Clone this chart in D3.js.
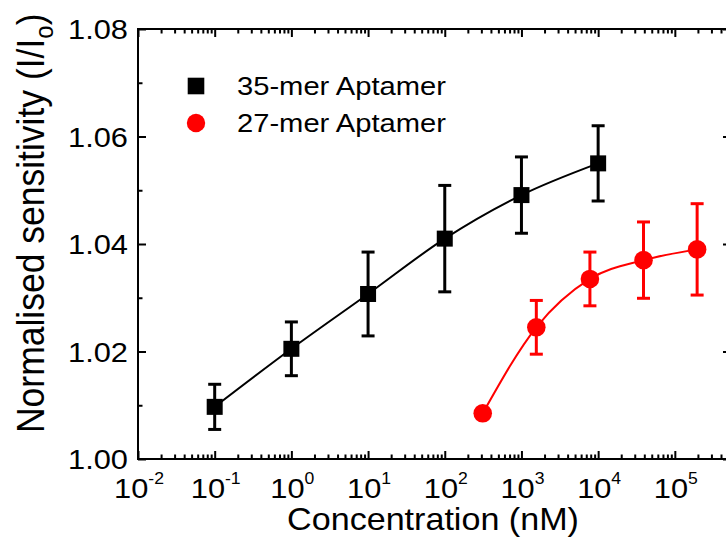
<!DOCTYPE html>
<html>
<head>
<meta charset="utf-8">
<script src="https://cdn.jsdelivr.net/npm/d3@7"></script>
<style>
  body { margin: 0; background: #fff; }
  text { font-family: "Liberation Sans", Arial, sans-serif; fill: #000; }
</style>
</head>
<body>
<div id="chartDiv"></div>
<script>
// data
var conc35 = [0.1, 1, 10, 100, 1000, 10000];
var sens35 = [1.0097, 1.0205, 1.0307, 1.0410, 1.0491, 1.0550];
var err35  = [0.0042, 0.0050, 0.0078, 0.0099, 0.0071, 0.0070];

var conc27 = [312.5, 1562.5, 7812.5, 39062.5, 195312.5];
var sens27 = [1.0085, 1.0245, 1.0335, 1.0370, 1.0390];
var err27  = [0, 0.0050, 0.0050, 0.0071, 0.0085];

var yMajor = [1.00, 1.02, 1.04, 1.06, 1.08];
var yMinor = [1.01, 1.03, 1.05, 1.07];
var xExponents = [-2, -1, 0, 1, 2, 3, 4, 5];

var seriesNames = ["35-mer Aptamer", "27-mer Aptamer"];
var seriesColors = ["#000000", "#ff0000"];

// set the dimensions and margins of the graph
var margin = {top: 29, left: 138},
    width = 593,
    height = 430;
var stretch = "scale(1.1,1)"; // the reference text is a bit wide

var svg = d3.select("#chartDiv")
    .append("svg")
        .attr("width", 726)
        .attr("height", 537);

var g = svg.append("g")
    .attr("transform", "translate(" + margin.left + "," + margin.top + ")");

var x = d3.scaleLog()
    .domain([1e-2, 5.4e5])
    .range([0, width]);

var y = d3.scaleLinear()
    .domain([1.00, 1.08])
    .range([height, 0]);

// minor ticks of the log axis: 2..9 x 10^k
var xMajor = xExponents.map(function(e) { return Math.pow(10, e); });
var xMinor = [];
xExponents.forEach(function(e) {
    for (var m = 2; m <= 9; m++) {
        var v = m * Math.pow(10, e);
        if (v < x.domain()[1]) xMinor.push(v);
    }
});

function styleAxis(sel) {
    sel.select(".domain").remove();
    sel.selectAll("line").attr("stroke", "#000").attr("stroke-width", 2);
}

// ticks all point inward
g.append("g").attr("transform", "translate(0," + height + ")")
    .call(d3.axisBottom(x).tickValues(xMajor).tickSizeInner(-8).tickSizeOuter(0).tickFormat(""))
    .call(styleAxis);
g.append("g").attr("transform", "translate(0," + height + ")")
    .call(d3.axisBottom(x).tickValues(xMinor).tickSizeInner(-4.5).tickSizeOuter(0).tickFormat(""))
    .call(styleAxis);
g.append("g")
    .call(d3.axisTop(x).tickValues(xMajor).tickSizeInner(-8).tickSizeOuter(0).tickFormat(""))
    .call(styleAxis);
g.append("g")
    .call(d3.axisTop(x).tickValues(xMinor).tickSizeInner(-4.5).tickSizeOuter(0).tickFormat(""))
    .call(styleAxis);
g.append("g")
    .call(d3.axisLeft(y).tickValues(yMajor).tickSizeInner(-8).tickSizeOuter(0).tickFormat(""))
    .call(styleAxis);
g.append("g")
    .call(d3.axisLeft(y).tickValues(yMinor).tickSizeInner(-4.5).tickSizeOuter(0).tickFormat(""))
    .call(styleAxis);
g.append("g").attr("transform", "translate(" + width + ",0)")
    .call(d3.axisRight(y).tickValues(yMajor).tickSizeInner(-8).tickSizeOuter(0).tickFormat(""))
    .call(styleAxis);
g.append("g").attr("transform", "translate(" + width + ",0)")
    .call(d3.axisRight(y).tickValues(yMinor).tickSizeInner(-4.5).tickSizeOuter(0).tickFormat(""))
    .call(styleAxis);

// frame
g.append("rect")
    .attr("width", width)
    .attr("height", height)
    .attr("fill", "none")
    .attr("stroke", "#000")
    .attr("stroke-width", 2);

// y tick labels
g.selectAll(".ylab")
    .data(yMajor)
    .enter()
    .append("text")
        .attr("transform", function(d) { return "translate(-10," + y(d) + ") " + stretch; })
        .attr("text-anchor", "end")
        .attr("dy", "0.36em")
        .style("font-size", "28px")
        .text(function(d) { return d.toFixed(2); });

// x tick labels: 10 with superscript exponent
var xl = g.selectAll(".xlab")
    .data(xExponents)
    .enter()
    .append("text")
        .attr("transform", function(d) { return "translate(" + (x(Math.pow(10, d)) + 1) + "," + (height + 39) + ") " + stretch; })
        .attr("text-anchor", "middle")
        .style("font-size", "28px");
xl.append("tspan").text("10");
xl.append("tspan")
    .attr("dy", -14)
    .style("font-size", "16px")
    .text(function(d) { return d < 0 ? "-" + (-d) : "" + d; });

// axis titles
g.append("text")
    .attr("transform", "translate(" + (433 - margin.left) + "," + (530 - margin.top) + ") " + stretch)
    .attr("text-anchor", "middle")
    .style("font-size", "31px")
    .text("Concentration (nM)");

var yt = svg.append("text")
    .attr("transform", "translate(44,433) " + stretch + " rotate(-90)")
    .attr("text-anchor", "start")
    .style("font-size", "35.5px");
yt.append("tspan").text("Normalised sensitivity (I/I");
yt.append("tspan").attr("dy", 8).style("font-size", "24px").text("o");
yt.append("tspan").attr("dy", -8).text(")");

// fit curves
var curve = d3.line()
    .x(function(d) { return x(d[0]); })
    .y(function(d) { return y(d[1]); })
    .curve(d3.curveMonotoneX);

g.append("path")
    .datum(d3.zip(conc35, sens35))
    .attr("d", curve)
    .attr("fill", "none")
    .attr("stroke", seriesColors[0])
    .attr("stroke-width", 2);

g.append("path")
    .datum(d3.zip(conc27, sens27))
    .attr("d", curve)
    .attr("fill", "none")
    .attr("stroke", seriesColors[1])
    .attr("stroke-width", 2);

// error bars
function drawErrors(conc, sens, err, color) {
    var data = d3.zip(conc, sens, err).filter(function(d) { return d[2] > 0; });
    var eb = g.append("g")
        .attr("stroke", color)
        .attr("stroke-width", 3)
        .selectAll("g")
        .data(data)
        .enter()
        .append("g");
    eb.append("line")
        .attr("x1", function(d) { return x(d[0]); })
        .attr("x2", function(d) { return x(d[0]); })
        .attr("y1", function(d) { return y(d[1] - d[2]); })
        .attr("y2", function(d) { return y(d[1] + d[2]); });
    [1, -1].forEach(function(s) {
        eb.append("line")
            .attr("x1", function(d) { return x(d[0]) - 6.5; })
            .attr("x2", function(d) { return x(d[0]) + 6.5; })
            .attr("y1", function(d) { return y(d[1] + s * d[2]); })
            .attr("y2", function(d) { return y(d[1] + s * d[2]); });
    });
}
drawErrors(conc35, sens35, err35, seriesColors[0]);
drawErrors(conc27, sens27, err27, seriesColors[1]);

// markers
g.selectAll(".sq")
    .data(d3.zip(conc35, sens35))
    .enter()
    .append("rect")
        .attr("x", function(d) { return x(d[0]) - 8; })
        .attr("y", function(d) { return y(d[1]) - 8; })
        .attr("width", 16)
        .attr("height", 16)
        .attr("fill", seriesColors[0]);

g.selectAll(".dot")
    .data(d3.zip(conc27, sens27))
    .enter()
    .append("circle")
        .attr("cx", function(d) { return x(d[0]); })
        .attr("cy", function(d) { return y(d[1]); })
        .attr("r", 9.3)
        .attr("fill", seriesColors[1]);

// legend
var legend = svg.append("g");
legend.append("rect")
    .attr("x", 196 - 8.3).attr("y", 86 - 8.3)
    .attr("width", 16.6).attr("height", 16.6)
    .attr("fill", seriesColors[0]);
legend.append("circle")
    .attr("cx", 196).attr("cy", 123)
    .attr("r", 9.2)
    .attr("fill", seriesColors[1]);
legend.selectAll("text")
    .data(seriesNames)
    .enter()
    .append("text")
        .attr("transform", function(d, i) { return "translate(237," + (95 + i * 36.5) + ") " + stretch; })
        .style("font-size", "26.5px")
        .text(function(d) { return d; });
</script>
</body>
</html>
